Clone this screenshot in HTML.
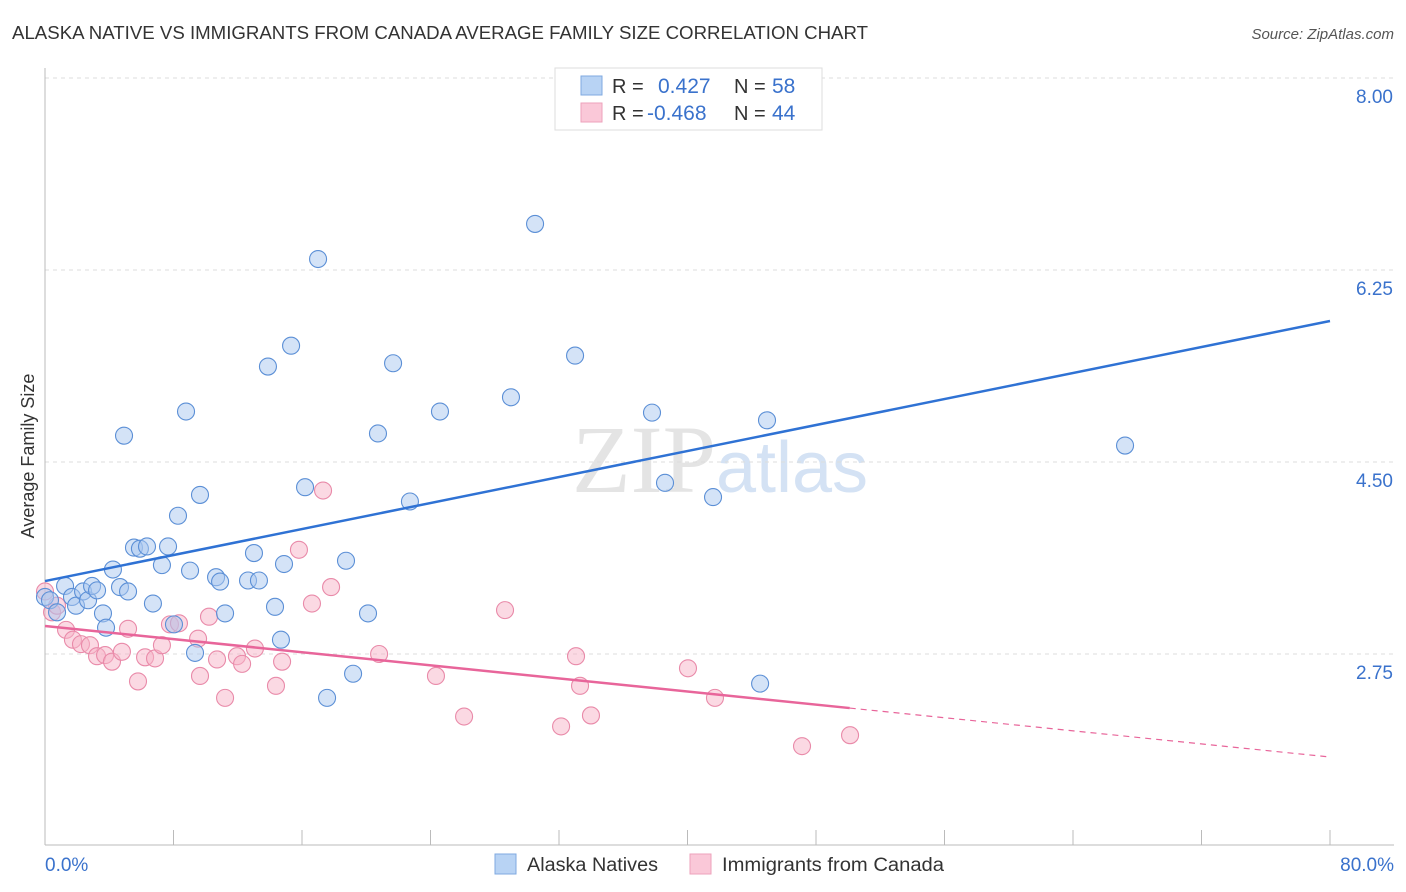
<!DOCTYPE html>
<html><head><meta charset="utf-8"><style>
body{margin:0;background:#fff;font-family:"Liberation Sans",sans-serif;}
#wrap{position:relative;width:1406px;height:892px;overflow:hidden;}
</style></head><body>
<div id="wrap">
<svg id="svg" width="1406" height="892" xmlns="http://www.w3.org/2000/svg">
<text x="12" y="39" font-size="18" fill="#333" textLength="856" lengthAdjust="spacingAndGlyphs">ALASKA NATIVE VS IMMIGRANTS FROM CANADA AVERAGE FAMILY SIZE CORRELATION CHART</text>
<text x="1394" y="39" font-size="15" fill="#555" font-style="italic" text-anchor="end">Source: ZipAtlas.com</text>
<text x="720" y="492" font-size="96" fill="#e4e4e4" text-anchor="middle" font-family="Liberation Serif,serif">ZIP<tspan fill="#d4e2f4" font-family="Liberation Sans,sans-serif" font-size="72">atlas</tspan></text>
<text transform="translate(34,456) rotate(-90)" font-size="18" fill="#333" text-anchor="middle">Average Family Size</text>
<g id="grid"></g><g id="marks"></g>
<g>
<rect x="555" y="68" width="267" height="62" fill="#fff" stroke="#ddd"/>
<rect x="581" y="76" width="21" height="19" fill="#b8d3f4" stroke="#7fa9e0"/>
<rect x="581" y="103" width="21" height="19" fill="#fac8d8" stroke="#eda2bb"/>
<text x="612" y="93" font-size="20" fill="#333">R =</text><text x="658" y="93" font-size="21" fill="#3a72cc">0.427</text>
<text x="734" y="93" font-size="20" fill="#333">N =</text><text x="772" y="93" font-size="21" fill="#3a72cc">58</text>
<text x="612" y="120" font-size="20" fill="#333">R =</text><text x="647" y="120" font-size="21" fill="#3a72cc">-0.468</text>
<text x="734" y="120" font-size="20" fill="#333">N =</text><text x="772" y="120" font-size="21" fill="#3a72cc">44</text>
</g>
<g>
<rect x="495" y="854" width="21" height="20" fill="#b8d3f4" stroke="#7fa9e0"/>
<text x="527" y="871" font-size="19" fill="#333" textLength="131" lengthAdjust="spacingAndGlyphs">Alaska Natives</text>
<rect x="690" y="854" width="21" height="20" fill="#fac8d8" stroke="#eda2bb"/>
<text x="722" y="871" font-size="19" fill="#333" textLength="222" lengthAdjust="spacingAndGlyphs">Immigrants from Canada</text>
</g>
</svg>
</div>
<script>
const yTicks=[8.00,6.25,4.50,2.75];
const xTickLabels=["0.0%","80.0%"];
const blueX=[0,.31,.75,1.25,1.68,1.93,2.37,2.68,2.93,3.24,3.61,3.80,4.23,4.67,4.92,5.17,5.54,5.91,6.35,6.72,7.28,7.66,8.03,8.28,8.78,9.03,9.34,9.65,10.65,10.90,11.21,12.64,13.01,13.32,13.88,14.32,14.69,14.88,15.32,16.19,17.00,17.56,18.74,19.18,20.11,20.73,21.67,22.72,24.59,29.01,30.51,33.00,37.79,38.60,41.59,44.52,44.95,67.24];
const blueY=[3.27,3.24,3.13,3.37,3.27,3.19,3.32,3.24,3.37,3.33,3.12,2.99,3.52,3.36,4.74,3.32,3.72,3.71,3.73,3.21,3.56,3.73,3.02,4.01,4.96,3.51,2.76,4.20,3.45,3.41,3.12,3.42,3.67,3.42,5.37,3.18,2.88,3.57,5.56,4.27,6.35,2.35,3.60,2.57,3.12,4.76,5.40,4.14,4.96,5.09,6.67,5.47,4.95,4.31,4.18,2.48,4.88,4.65];
const pinkX=[0,.44,.75,1.31,1.74,2.24,2.80,3.24,3.74,4.17,4.79,5.17,5.79,6.23,6.85,7.28,7.78,8.34,9.53,9.65,10.21,10.71,11.21,11.95,12.27,13.07,14.38,14.76,15.81,16.62,17.31,17.81,20.80,24.34,26.09,28.64,32.13,33.06,33.31,33.99,40.03,41.71,47.13,50.12];
const pinkY=[3.32,3.13,3.19,2.97,2.88,2.84,2.83,2.73,2.74,2.68,2.77,2.98,2.50,2.72,2.71,2.83,3.02,3.03,2.89,2.55,3.09,2.70,2.35,2.73,2.66,2.80,2.46,2.68,3.70,3.21,4.24,3.36,2.75,2.55,2.18,3.15,2.09,2.73,2.46,2.19,2.62,2.35,1.91,2.01];
const blueTrend=[3.415,5.785];
const pinkTrend=[3.005,1.811];
const pinkSolidEnd=50.1;
const NS="http://www.w3.org/2000/svg";
const X=v=>45+v/80*1285;
const Y=v=>78+(8-v)/1.75*192;
const grid=document.getElementById('grid'),marks=document.getElementById('marks');
function mk(tag,attrs,parent){const e=document.createElementNS(NS,tag);for(const k in attrs)e.setAttribute(k,attrs[k]);parent.appendChild(e);return e;}
yTicks.forEach(t=>{
 const l=mk('line',{x1:45,x2:1394,y1:Y(t),y2:Y(t),stroke:'#ddd','stroke-dasharray':'4,4'},grid);
 
 
 const tx=mk('text',{x:1393,y:Y(t)+25,'font-size':19,fill:'#3a72cc','text-anchor':'end'},grid);
 tx.textContent=t.toFixed(2);
 
 
});
mk('line',{x1:45,x2:45,y1:68,y2:845,stroke:'#bbb'},grid);
mk('line',{x1:45,x2:1394,y1:845,y2:845,stroke:'#bbb'},grid);
for(let i=0;i<=10;i++){const t=mk('line',{x1:X(i*8),x2:X(i*8),y1:830,y2:845,stroke:'#bbb'},grid);
 
 }
[[0,'start',45],[80,'end',1394]].forEach((d,i)=>{const t=mk('text',{x:d[2],y:871,'font-size':19,fill:'#3a72cc','text-anchor':d[1]},grid);t.textContent=xTickLabels[i];
 
 });
function pts(xs,ys,fill,stroke,name){xs.forEach((x,i)=>{const c=mk('circle',{cx:X(x),cy:Y(ys[i]),r:8.5,fill:fill,'fill-opacity':0.5,stroke:stroke,'stroke-width':1.1},marks);
 
 });}
pts(pinkX,pinkY,'#f7b3c8','#e98aa9','pink-point');
pts(blueX,blueY,'#a9c8f0','#5b8fd6','blue-point');
const bl=mk('line',{x1:X(0),y1:Y(blueTrend[0]),x2:X(80),y2:Y(blueTrend[1]),stroke:'#2f72d4','stroke-width':2.5},marks);


const pAt=x=>pinkTrend[0]+(pinkTrend[1]-pinkTrend[0])*x/80;
const pl=mk('line',{x1:X(0),y1:Y(pAt(0)),x2:X(pinkSolidEnd),y2:Y(pAt(pinkSolidEnd)),stroke:'#e8659a','stroke-width':2.5},marks);


const pd=mk('line',{x1:X(pinkSolidEnd),y1:Y(pAt(pinkSolidEnd)),x2:X(80),y2:Y(pAt(80)),stroke:'#e8659a','stroke-width':1.2,'stroke-dasharray':'6,5'},marks);


</script>
</body></html>
